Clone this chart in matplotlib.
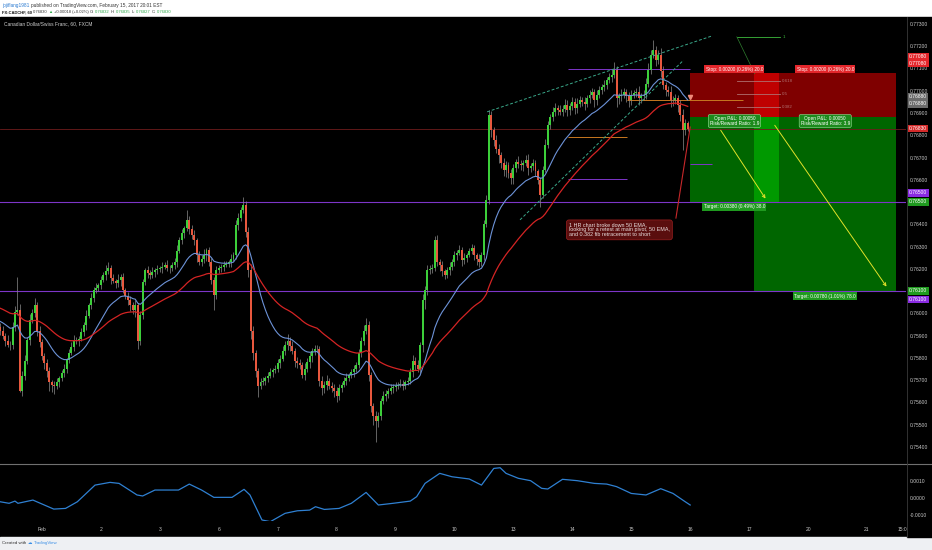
import numpy as np
import matplotlib
matplotlib.use("Agg")
import matplotlib.pyplot as plt
from matplotlib.patches import Rectangle
from matplotlib.transforms import blended_transform_factory

W, H = 932, 550
plt.rcParams['font.family'] = ['Liberation Sans', 'DejaVu Sans']

# CADCHF 60 min, closes in 1e-5 above 0.75000, one row per session (Jan 31 partial .. Feb 15)
first_open = 940
closes = [
    923, 900, 878, 860, 856, 940, 1004, 1013, 653, 720, 788, 880, 968, 1000, 1036, 923, 870,
    810, 775, 743, 690, 680, 676, 690, 708, 730, 752, 790, 824, 850, 878, 880, 887, 915, 946, 990, 1036, 1070, 1103, 1115, 1126,
    1150, 1171, 1190, 1202, 1157, 1145, 1135, 1150, 1162, 1103, 1080, 1058, 1036, 1013, 1036, 878, 991, 1139, 1193, 1180, 1171, 1185, 1193, 1200,
    1202, 1210, 1216, 1205, 1202, 1215, 1229, 1280, 1328, 1360, 1382, 1418, 1380, 1351, 1328, 1261, 1229, 1245, 1261, 1283, 1229, 1150, 1081, 1193,
    1202, 1210, 1216, 1222, 1229, 1245, 1261, 1396, 1430, 1463, 1486, 1364, 1193, 923, 820, 743, 676, 690, 698, 708, 720, 735, 745, 752,
    775, 797, 830, 856, 878, 855, 833, 788, 775, 766, 721, 752, 780, 810, 833, 840, 842, 698, 663, 680, 698, 676, 665, 653,
    631, 663, 680, 698, 710, 721, 735, 750, 766, 820, 878, 923, 946, 721, 586, 540, 518, 541, 608, 631, 640, 653, 663, 670,
    676, 680, 685, 676, 690, 698, 735, 788, 770, 752, 856, 1058, 1103, 1193, 1200, 1202, 1328, 1229, 1216, 1190, 1171, 1193, 1210, 1229,
    1261, 1270, 1283, 1238, 1250, 1261, 1280, 1292, 1261, 1245, 1229, 1261, 1400, 1508, 1891, 1823, 1778, 1740, 1711, 1675, 1644, 1666, 1630, 1608,
    1653, 1680, 1670, 1666, 1675, 1689, 1653, 1660, 1675, 1640, 1599, 1532, 1644, 1756, 1846, 1880, 1905, 1922, 1915, 1905, 1920, 1936, 1913, 1930,
    1950, 1922, 1940, 1958, 1950, 1940, 1967, 1980, 1994, 1958, 1980, 2003, 2015, 2026, 2048, 2060, 2071, 2093, 1967, 1975, 1981, 1994, 1975, 1958,
    1981, 1990, 1994, 1967, 1975, 1981, 2030, 2093, 2160, 2183, 2138, 2160, 2090, 2026, 2003, 1994, 1958, 1960, 1967, 1936, 1891, 1823, 1855, 1830,
]
wick_up = [
    15, 20, 10, 25, 15, 20, 30, 150, 30, 20, 25, 15, 30, 20, 35, 15, 20,
    15, 10, 20, 15, 10, 15, 20, 10, 15, 20, 10, 15, 20, 25, 15, 10, 20, 15, 25, 10, 20, 15, 20, 10,
    20, 15, 25, 30, 15, 20, 10, 25, 15, 20, 10, 15, 20, 15, 25, 10, 20, 15, 10, 20, 15, 25, 10, 15,
    10, 20, 15, 25, 10, 15, 20, 25, 15, 20, 10, 45, 20, 15, 25, 10, 20, 15, 30, 10, 15, 20, 15, 20,
    15, 10, 20, 15, 10, 20, 15, 25, 20, 15, 36, 20, 25, 30, 20, 15, 10, 20, 15, 10, 15, 20, 10, 15,
    20, 15, 25, 20, 30, 15, 20, 10, 15, 20, 15, 25, 20, 15, 10, 20, 15, 10, 20, 15, 25, 10, 15, 20,
    15, 20, 10, 15, 20, 10, 15, 20, 15, 20, 15, 25, 33, 20, 15, 10, 20, 15, 10, 20, 15, 10, 20, 15,
    15, 10, 20, 15, 10, 15, 20, 25, 15, 20, 15, 30, 20, 25, 15, 20, 20, 25, 15, 20, 10, 15, 20, 15,
    20, 15, 25, 15, 20, 10, 15, 20, 15, 10, 20, 15, 20, 25, 23, 20, 15, 25, 20, 15, 25, 20, 15, 20,
    20, 15, 25, 20, 15, 20, 25, 15, 20, 15, 10, 15, 20, 25, 20, 15, 20, 25, 15, 20, 15, 25, 20, 15,
    20, 15, 25, 20, 15, 20, 15, 25, 20, 15, 25, 20, 15, 20, 15, 20, 25, 36, 20, 15, 25, 20, 15, 20,
    20, 15, 20, 25, 15, 20, 25, 30, 25, 45, 20, 25, 30, 20, 15, 20, 25, 15, 20, 15, 20, 25, 20, 10,
]
wick_dn = [
    20, 15, 25, 10, 20, 15, 20, 10, 7, 25, 20, 15, 20, 10, 15, 25, 20,
    20, 25, 30, 40, 35, 40, 15, 20, 10, 15, 20, 15, 10, 20, 15, 25, 10, 15, 20, 10, 15, 20, 10, 15,
    15, 10, 20, 15, 25, 10, 20, 15, 25, 10, 15, 20, 25, 15, 30, 40, 20, 15, 10, 20, 15, 10, 20, 15,
    15, 20, 10, 15, 20, 10, 15, 20, 10, 15, 20, 10, 25, 15, 20, 30, 10, 15, 20, 25, 15, 20, 68, 15,
    10, 15, 20, 10, 15, 20, 10, 15, 20, 15, 10, 20, 30, 40, 30, 30, 52, 15, 10, 20, 15, 10, 20, 15,
    15, 20, 10, 15, 20, 25, 15, 30, 20, 15, 10, 20, 15, 25, 30, 20, 15, 25, 30, 20, 25, 15, 20, 30,
    30, 20, 15, 10, 20, 15, 10, 20, 15, 10, 15, 20, 15, 25, 30, 40, 96, 30, 20, 15, 25, 20, 15, 20,
    20, 15, 10, 20, 15, 10, 15, 20, 25, 15, 20, 30, 40, 20, 15, 20, 10, 15, 25, 20, 15, 10, 20, 15,
    15, 20, 10, 25, 15, 20, 10, 15, 20, 30, 20, 15, 20, 10, 15, 30, 25, 20, 35, 20, 25, 30, 20, 25,
    25, 20, 15, 20, 25, 15, 30, 20, 15, 25, 20, 54, 15, 10, 15, 20, 15, 20, 25, 15, 20, 15, 25, 20,
    15, 25, 20, 15, 20, 25, 15, 20, 15, 30, 20, 15, 20, 15, 20, 15, 20, 15, 40, 25, 20, 15, 25, 30,
    20, 15, 20, 30, 20, 15, 20, 15, 20, 15, 25, 20, 30, 20, 25, 20, 30, 25, 20, 30, 25, 89, 20, 10,
]
ema_seed_fast, ema_seed_slow = 0.75968, 0.76027

# lower pane oscillator (bar index, value)
osc_idx = [-17, -13.4, -11, -9.8, -3.7, 4.8, 9.6, 14.4, 21.6, 27.7, 31.4, 38.7, 41, 46, 55.6, 60, 65, 70,
           77.4, 82.3, 84.7, 89.6, 93, 99, 104, 109, 111.4, 115, 121, 126, 132, 137, 143, 150, 152.6,
           156, 162, 167, 174, 179, 184, 186.6, 189, 194, 199, 203.5, 206, 212, 218, 225, 230, 234,
           240, 246, 252, 257, 262, 264]
osc_val = [-2.2, -3.1, -1.8, -3.1, -1.2, -6.5, -6.1, -2.2, 7.6, 9.2, 8.6, 1.8, 1.2, 4.7, 4.7, 8.2, 4.7, 0.4,
           0.4, 5.1, 1.8, -12.9, -13.9, -9.0, -7.5, -7.1, -5.1, -6.7, -6.1, -3.1, 3.3, -4.1, -3.1, -1.8, 0.8,
           8.6, 14.5, 12.5, 11.2, 7.6, 17.4, 17.8, 14.5, 11.6, 10.2, 5.7, 5.3, 11.0, 10.2, 8.6, 8.2, 6.7,
           2.7, 1.8, 5.5, 2.7, -2.2, -4.1]

day_ticks = [0, 24, 48, 72, 96, 120, 144, 168, 192, 216, 240, 264, 288, 312, 336, 351]
day_labels = ['Feb', '2', '3', '6', '7', '8', '9', '10', '13', '14', '15', '16', '17', '20', '21', '15:00']

# trade setup
entry, stop = 0.76880, 0.77080
target_a, target_b = 0.76500, 0.76100
pos_a = (264, 300)
pos_b = (290, 348)
pivot_main = 0.76500
pivot_low = 0.76100
last_price = 0.76830

closes = 0.75 + np.array(closes) * 1e-5
n = len(closes)
idx = np.arange(-17, -17 + n)
opens = np.r_[0.75 + first_open * 1e-5, closes[:-1]]
highs = np.maximum(opens, closes) + np.array(wick_up) * 1e-5
lows = np.minimum(opens, closes) - np.array(wick_dn) * 1e-5


def ema(vals, span, seed):
    a = 2.0 / (span + 1)
    out, e = [], seed
    for v in vals:
        e += a * (v - e)
        out.append(e)
    return np.array(out)


ema_fast = ema(closes, 20, ema_seed_fast)
ema_slow = ema(closes, 50, ema_seed_slow)


def rect(x0, y0, x1, y1):
    return [x0 / W, 1 - y1 / H, (x1 - x0) / W, (y1 - y0) / H]


fig = plt.figure(figsize=(W / 100, H / 100), dpi=100, facecolor='#ffffff')
fig.patches.append(Rectangle((0, 1 - 537 / H), 1, 520 / H, transform=fig.transFigure,
                             color='black', zorder=-2))
fig.patches.append(Rectangle((0, 0), 1, 13 / H, transform=fig.transFigure,
                             color='#eef0f3', zorder=-2))

ax = fig.add_axes(rect(0, 17, 906, 463))
ax2 = fig.add_axes(rect(0, 464, 906, 521), sharex=ax)
for a in (ax, ax2):
    a.set_facecolor('black')
    for s in a.spines.values():
        s.set_visible(False)
    a.yaxis.tick_right()
    a.tick_params(axis='y', length=0, pad=3, labelsize=3.6, labelcolor='#c8c8c8')

ax.set_xlim(-17.1, 351.9)
ax.set_ylim(0.75328, 0.77331)
ax2.set_ylim(-0.00135, 0.0020)

# candles
up = closes >= opens
colors = np.where(up, '#3ccf3a', '#e8583e')
ax.vlines(idx, lows, highs, color='#8c8c8c', lw=0.5, zorder=3)
body = np.where(np.abs(closes - opens) < 2e-5, 2e-5, closes - opens)
ax.bar(idx, body, bottom=opens, width=0.8, color=colors, lw=0, zorder=4)
ax.plot(idx, ema_fast, color='#6d93d8', lw=0.8, zorder=5)
ax.plot(idx, ema_slow, color='#d42424', lw=0.9, zorder=5)

# horizontal levels
ax.axhline(pivot_main, color='#7d35c8', lw=0.8, zorder=2)
ax.axhline(pivot_low, color='#7d35c8', lw=0.8, zorder=2)
ax.axhline(last_price, color='#6e1c1c', lw=0.6, zorder=2)
ax.hlines([0.77098, 0.76604], 214.3, [264, 238.3], color='#7d35c8', lw=0.7, zorder=2)
ax.hlines([0.76792, 0.76959], [214.3, 238.3], [238.3, 285.7], color='#c87820', lw=0.7, zorder=2)
ax.hlines(0.76671, 264, 273, color='#7d35c8', lw=0.7, zorder=2)

# rising wedge
ax.plot([181.3, 272.9], [0.76905, 0.77246], color='#3aa88a', lw=0.7, dashes=(3, 2), zorder=6)
ax.plot([194.7, 261.3], [0.76420, 0.77137], color='#3aa88a', lw=0.7, dashes=(3, 2), zorder=6)

# positions
for (x0, x1), tgt in ((pos_a, target_a), (pos_b, target_b)):
    ax.add_patch(Rectangle((x0, entry), x1 - x0, stop - entry, color=(1, 0, 0), alpha=0.5, lw=0, zorder=1))
    ax.add_patch(Rectangle((x0, tgt), x1 - x0, entry - tgt, color=(0, 0.8, 0), alpha=0.5, lw=0, zorder=1))

# fib retracement
fib_lv = [0.77242, 0.77045, 0.76986, 0.76926]
fib_tx = ['1', '0.618', '0.5', '0.382']
for lv, tx in zip(fib_lv, fib_tx):
    c = '#3dbb3d' if tx == '1' else '#b07070'
    ax.plot([283, 300.6], [lv, lv], color=c, lw=0.6, zorder=6)
    ax.text(301.5, lv, tx, color=c, fontsize=3.2, va='center', ha='left', zorder=7)
ax.plot([283, 290.3], [0.77242, 0.77076], color='#2f7f2f', lw=0.5, zorder=6)
ax.plot(264, 0.76972, marker='v', ms=3, color='#f08a7a', zorder=8)

# arrows
for s, e in (((275.8, 0.76833), (295.3, 0.76505)), ((297.8, 0.76855), (344.6, 0.76110))):
    ax.annotate('', xy=e, xytext=s, zorder=8,
                arrowprops=dict(arrowstyle='->', color='#e2e22a', lw=0.7, mutation_scale=5))

lab = dict(fontsize=3.4, ha='center', va='center', color='white', zorder=9)
for x in (282, 319):
    ax.text(x, 0.77096, 'Stop: 0.00200 (0.26%) 20.0', **lab,
            bbox=dict(boxstyle='square,pad=0.3', fc='#e3262b', ec='none'))
ax.text(282, 0.76864, 'Open P&L: 0.00050\nRisk/Reward Ratio: 1.9', **lab, linespacing=1.0,
        bbox=dict(boxstyle='round,pad=0.3', fc='#1c8a1c', ec='#9be09b', lw=0.4))
ax.text(319, 0.76864, 'Open P&L: 0.00050\nRisk/Reward Ratio: 3.9', **lab, linespacing=1.0,
        bbox=dict(boxstyle='round,pad=0.3', fc='#1c8a1c', ec='#9be09b', lw=0.4))
ax.text(282, 0.76478, 'Target: 0.00380 (0.49%) 38.0', **lab,
        bbox=dict(boxstyle='square,pad=0.3', fc='#1f9a1f', ec='none'))
ax.text(319, 0.76078, 'Target: 0.00780 (1.01%) 78.0', **lab,
        bbox=dict(boxstyle='square,pad=0.3', fc='#1f9a1f', ec='none'))

# note
ax.plot([258.2, 264], [0.76428, 0.76837], color='#c8282a', lw=0.8, zorder=6)
ax.text(214.6, 0.76375, '1 HR chart broke down 50 EMA,\nlooking for a retest at main pivot, 50 EMA,\n'
        'and 0.382 fib retracement to short', fontsize=3.9, color='#e8dede', ha='left', va='center',
        linespacing=1.0, zorder=9,
        bbox=dict(boxstyle='round,pad=0.45', fc='#5a0e0e', ec='#9a2020', lw=0.5))
ax.text(-15.5, 0.77300, 'Canadian Dollar/Swiss Franc, 60, FXCM', fontsize=3.5, color='#d0d0d0',
        ha='left', va='center')

# price scale
ax.set_yticks(np.arange(0.754, 0.7731, 0.001))
ax.yaxis.set_major_formatter(matplotlib.ticker.FormatStrFormatter('%.5f'))
ax.tick_params(axis='x', length=0, labelbottom=False)
tr = blended_transform_factory(ax.transAxes, ax.transData)
tags = [(0.771540, '0.77080', '#e3262b'), (0.771226, '0.77080', '#e3262b'),
        (0.769743, '0.76880', '#6b6b6b'), (0.769406, '0.76880', '#6b6b6b'),
        (0.768306, '0.76830', '#d42a2a'), (0.765408, '0.76500', '#8a2be2'),
        (0.765004, '0.76500', '#1f9a1f'), (0.761006, '0.76100', '#1f9a1f'),
        (0.760624, '0.76100', '#8a2be2')]
for y, t, c in tags:
    ax.text(1.0035, y, t, transform=tr, fontsize=3.6, color='white', ha='left', va='center',
            clip_on=False, zorder=10, bbox=dict(boxstyle='square,pad=0.22', fc=c, ec='none'))

# oscillator pane
ax2.plot(osc_idx, np.array(osc_val) * 1e-4, color='#2f80d2', lw=0.9)
ax2.set_yticks([0.001, 0.0, -0.001])
ax2.set_yticklabels(['0.0010', '0.0000', '-0.0010'])
ax2.set_xticks(day_ticks)
ax2.set_xticklabels(day_labels)
ax2.tick_params(axis='x', length=0, pad=4.5, labelsize=3.6, labelcolor='#c8c8c8')

fig.add_artist(plt.Line2D([0, 1], [1 - 463.5 / H] * 2, color='#707070', lw=0.8))
fig.add_artist(plt.Line2D([906.5 / W] * 2, [1 - 537 / H, 1 - 17 / H], color='#3a3a3a', lw=0.6))
fig.patches.append(Rectangle((907 / W, 1 - 537 / H), 25 / W, 16 / H, transform=fig.transFigure,
                             color='black', zorder=1))

# header / footer
r = fig.canvas.get_renderer()


def chain(x, y, parts, size, gap=1.0):
    for s, c, w in parts:
        t = fig.text(x / W, 1 - y / H, s, color=c, fontsize=size, fontweight=w, ha='left', va='center')
        x = t.get_window_extent(r).x1 + gap


g = '#2ea84a'
chain(2, 5, [('jojiflang1981', '#2a7ad1', 'normal'),
             ('published on TradingView.com, February 15, 2017 20:01 EST', '#333333', 'normal')], 3.4, 1.3)
chain(2, 12, [('FX:CADCHF, 60', '#111111', 'bold'), ('0.76830', '#333333', 'normal'), ('\u25b2', g, 'normal'),
              ('+0.00018 (+0.02%)', '#333333', 'normal'), ('O:', '#333333', 'normal'), ('0.76832', g, 'normal'),
              ('H:', '#333333', 'normal'), ('0.76835', g, 'normal'), ('L:', '#333333', 'normal'),
              ('0.76827', g, 'normal'), ('C:', '#333333', 'normal'), ('0.76830', g, 'normal')], 3.0)
chain(2, 543, [('Created with', '#333333', 'normal'), ('\u2601', '#3a8ee6', 'normal'),
               ('TradingView', '#3a8ee6', 'normal')], 3.2, 1.5)

fig.savefig('out.png', dpi=100, facecolor=fig.get_facecolor())
